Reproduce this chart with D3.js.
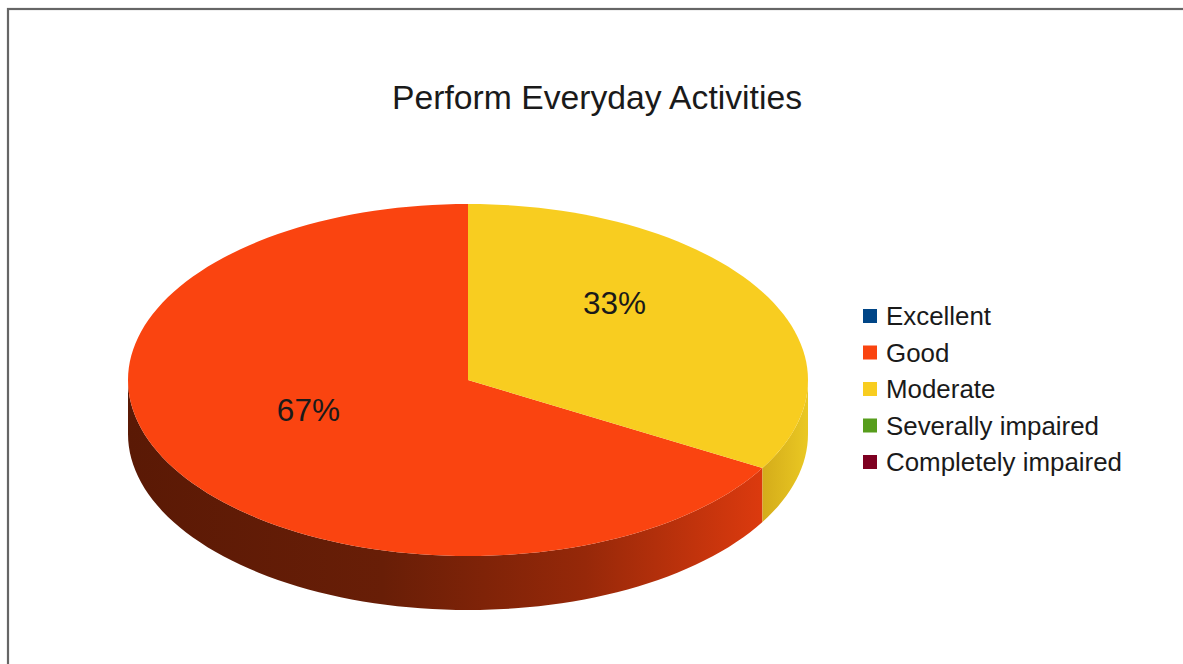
<!DOCTYPE html>
<html>
<head>
<meta charset="utf-8">
<script src="https://cdn.jsdelivr.net/npm/d3@7"></script>
<style>
  html, body { margin: 0; padding: 0; background: #fff; }
  svg { display: block; font-family: "Liberation Sans", Arial, sans-serif; }
</style>
</head>
<body>
<svg id="chart" width="1183" height="664"></svg>
<script>
// Ratings and their counts
const categories = ["Excellent", "Good", "Moderate", "Severally impaired", "Completely impaired"];
const counts = [0, 2, 1, 0, 0];
const topColors = ["#004586", "#fa4410", "#f8cd20", "#579d1c", "#7e0021"];
const sideDark = ["#00284d", "#5a1905", "#d4ac1a", "#30560f", "#420011"];
const sideLight = ["#0058aa", "#dc3a0e", "#eac823", "#6cb524", "#9e0029"];
const titleText = "Perform Everyday Activities";

const svg = d3.select("#chart");
const W = 1183, H = 664;

// Frame
svg.append("rect")
  .attr("x", 8).attr("y", 9)
  .attr("width", W + 20).attr("height", H + 20)
  .attr("fill", "#fff")
  .attr("stroke", "#666").attr("stroke-width", 2.2);

// Title
svg.append("text")
  .attr("x", 597).attr("y", 109)
  .attr("text-anchor", "middle")
  .attr("font-size", 33.7)
  .attr("fill", "#1a1a1a")
  .text(titleText);

// Pie geometry (tilted disc)
const cx = 468, cy = 380, rx = 340, ry = 176, depth = 54;
const px = a => cx + rx * Math.sin(a);
const py = a => cy - ry * Math.cos(a);

const total = d3.sum(counts);
const pie = d3.pie().sort(null).value(d => d).startAngle(2 * Math.PI).endAngle(0);
const arcs = pie(counts).map((d, i) => {
  const a0 = Math.min(d.startAngle, d.endAngle), a1 = Math.max(d.startAngle, d.endAngle);
  return { i, a0, a1, value: d.value };
}).filter(d => d.value > 0);

const defs = svg.append("defs");
const STEPS = 180;
function sampleAngles(a0, a1) {
  const n = Math.max(2, Math.ceil((a1 - a0) / (2 * Math.PI) * STEPS));
  return d3.range(n + 1).map(k => a0 + (a1 - a0) * k / n);
}

// Outer walls: only the front half of the disc is visible
const gWalls = svg.append("g");
arcs.forEach(d => {
  const b0 = Math.max(d.a0, Math.PI / 2), b1 = Math.min(d.a1, 3 * Math.PI / 2);
  if (b1 <= b0) return;
  const angs = sampleAngles(b0, b1);
  const topEdge = angs.map(a => [px(a), py(a)]);
  const botEdge = angs.slice().reverse().map(a => [px(a), py(a) + depth]);
  const gid = "wall" + d.i;
  const xs = topEdge.map(p => p[0]);
  const gx0 = d.i === 1 ? cx - rx : d3.min(xs);
  const gx1 = d3.max(xs);
  const grad = defs.append("linearGradient")
    .attr("id", gid).attr("gradientUnits", "userSpaceOnUse")
    .attr("x1", gx0).attr("y1", 0).attr("x2", gx1).attr("y2", 0);
  if (d.i === 1) {
    grad.append("stop").attr("offset", 0).attr("stop-color", "#5a1905");
    grad.append("stop").attr("offset", 0.4).attr("stop-color", "#681e07");
    grad.append("stop").attr("offset", 0.72).attr("stop-color", "#962809");
    grad.append("stop").attr("offset", 1).attr("stop-color", sideLight[d.i]);
  } else {
    grad.append("stop").attr("offset", 0).attr("stop-color", sideDark[d.i]);
    grad.append("stop").attr("offset", 1).attr("stop-color", sideLight[d.i]);
  }
  gWalls.append("path")
    .attr("d", d3.line()(topEdge.concat(botEdge)) + "Z")
    .attr("fill", `url(#${gid})`);
});

// Top faces
const gTop = svg.append("g");
arcs.forEach(d => {
  const pts = [[cx, cy]].concat(sampleAngles(d.a0, d.a1).map(a => [px(a), py(a)]));
  gTop.append("path")
    .attr("d", d3.line()(pts) + "Z")
    .attr("fill", topColors[d.i]);
});

// Percentage labels
const fmt = d3.format(".0%");
const lcx = cx - 6.5, lcy = 356.5, lrx = rx * 0.52, lry = 107;
arcs.forEach(d => {
  const m = (d.a0 + d.a1) / 2;
  svg.append("text")
    .attr("x", lcx + lrx * Math.sin(m))
    .attr("y", lcy - lry * Math.cos(m))
    .attr("dy", "0.35em")
    .attr("text-anchor", "middle")
    .attr("font-size", 31.5)
    .attr("fill", "#1a1a1a")
    .text(fmt(d.value / total));
});

// Legend
const y = d3.scalePoint().domain(categories).range([316, 462]);
const leg = svg.append("g");
categories.forEach((c, i) => {
  leg.append("rect")
    .attr("x", 863).attr("y", y(c) - 7)
    .attr("width", 14).attr("height", 14)
    .attr("fill", topColors[i]);
  leg.append("text")
    .attr("x", 886).attr("y", y(c))
    .attr("dy", "0.35em")
    .attr("font-size", 25.9)
    .attr("fill", "#1a1a1a")
    .text(c);
});
</script>
</body>
</html>
